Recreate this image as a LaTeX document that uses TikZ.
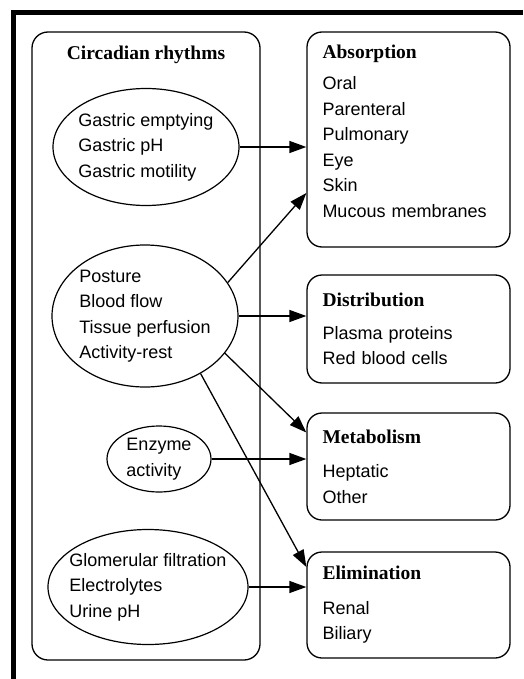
\documentclass[tikz,border=0pt]{standalone}
\usepackage{fontspec}
\setmainfont{Liberation Sans}
\newfontfamily\hdrfont{Liberation Serif}
\usetikzlibrary{positioning,arrows.meta,calc,shapes.geometric}
\newcommand{\ttl}[1]{{\hdrfont\bfseries\fontsize{19.5}{24}\selectfont #1}}

\begin{document}
\begin{tikzpicture}[
  x=1pt, y=-1pt,
  font=\fontsize{18}{25.5}\selectfont,
  box/.style={draw, rounded corners=15pt, line width=1.3pt, align=left,
    text width=172pt, minimum width=203pt, inner sep=0pt},
  oval/.style={draw, ellipse, line width=1.2pt, align=left,
    inner xsep=-10pt, inner ysep=0pt},
  hdr/.style={font=\hdrfont\bfseries\fontsize{19.5}{24}\selectfont},
  arr/.style={-{Triangle[length=17pt, width=12pt]}, line width=1.3pt},
  every node/.style={align=left}
]
\useasboundingbox (0,0) rectangle (523,679);
\draw[line width=5pt] (13,679) -- (13,13) -- (523,13);
\node[box, minimum width=228pt, minimum height=628pt, rounded corners=16pt] (box-circadian) at (146,346) {};
\node[hdr] (hdr-circadian) at (146,55) {Circadian rhythms};
\node[oval, minimum width=186pt, minimum height=117pt] (oval-gastric) at (146,147) {Gastric emptying\\ Gastric pH\\ Gastric motility};
\node[oval, minimum width=186pt, minimum height=142pt] (oval-posture) at (145,316) {Posture\\ Blood flow\\ Tissue perfusion\\ Activity-rest};
\node[oval, minimum width=104pt, minimum height=66pt] (oval-enzyme) at (159,459) {Enzyme\\ activity};
\node[oval, minimum width=200pt, minimum height=115pt] (oval-renal) at (148,587) {Glomerular filtration\\ Electrolytes\\ Urine pH};
\node[box, minimum height=215pt] (box-absorption) at (408.5,139.5) {\ttl{Absorption}\\[6pt] Oral\\ Parenteral\\ Pulmonary\\ Eye\\ Skin\\ Mucous membranes\\[-8pt]\mbox{}};
\node[box, minimum height=108pt] (box-distribution) at (408.5,329) {\ttl{Distribution}\\[7pt] Plasma proteins\\ Red blood cells};
\node[box, minimum height=107pt] (box-metabolism) at (408.5,466.5) {\ttl{Metabolism}\\[9pt] Heptatic\\ Other};
\node[box, minimum height=106pt] (box-elimination) at (408.5,605) {\ttl{Elimination}\\[9pt] Renal\\ Biliary};
\draw[arr] (oval-gastric.east) -- (oval-gastric.east -| box-absorption.west);
\draw[arr] (oval-posture.22) -- ([yshift=-53.5pt]box-absorption.west);
\draw[arr] (oval-posture.east) -- (oval-posture.east -| box-distribution.west);
\draw[arr] (oval-posture.335) -- ([yshift=34pt]box-metabolism.west);
\draw[arr] (oval-posture.314) -- ([yshift=38pt]box-elimination.west);
\draw[arr] (oval-enzyme.east) -- (oval-enzyme.east -| box-metabolism.west);
\draw[arr] (oval-renal.east) -- (oval-renal.east -| box-elimination.west);
\end{tikzpicture}
\end{document}
